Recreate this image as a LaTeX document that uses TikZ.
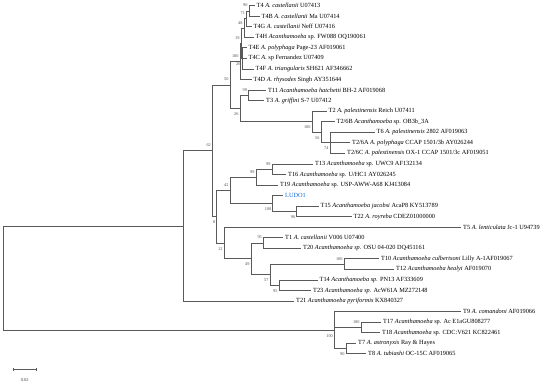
\documentclass[tikz,border=0pt]{standalone}
\usepackage{fontspec}
\setmainfont{Liberation Serif}
\definecolor{brc}{RGB}{90,90,90}
\definecolor{ludo}{RGB}{20,110,220}
\begin{document}
\begin{tikzpicture}[x=1pt,y=-1pt,
  br/.style={draw=brc, line width=0.85pt},
  leaf/.style={anchor=west, inner xsep=2pt, inner ysep=0pt, font=\fontsize{6.3}{7}\selectfont, text=black},
  bs/.style={font=\fontsize{4.3}{5}\selectfont, text=black!70, inner sep=0pt, anchor=east, xshift=-1.3pt},
  bsa/.style={bs, yshift=5.5pt},
  bsb/.style={bs, yshift=-5.5pt}]
\useasboundingbox (0,0) rectangle (550,386);
% ---------- leaves ----------
\node[leaf] (t4)   at (254.5,5.7)   {T4 \textit{A. castellanii} U07413};
\node[leaf] (t4b)  at (259.5,16.25) {T4B \textit{A. castellanii} Ma U07414};
\node[leaf] (t4g)  at (251.5,26.8)  {T4G \textit{A. castellanii} Neff U07416};
\node[leaf] (t4h)  at (253.5,37.35) {T4H \textit{Acanthamoeba} sp. FW088 OQ190061};
\node[leaf] (t4e)  at (246.5,47.9)  {T4E \textit{A. polyphaga} Page-23 AF019061};
\node[leaf] (t4c)  at (246.5,58.45) {T4C \textit{A.} sp Fernandez U07409};
\node[leaf] (t4f)  at (253.5,69.0)  {T4F \textit{A. triangularis} SH621 AF346662};
\node[leaf] (t4d)  at (251.5,79.55) {T4D \textit{A. rhysodes} Singh AY351644};
\node[leaf] (t11)  at (266,90.1)    {T11 \textit{Acanthamoeba hatchetti} BH-2 AF019068};
\node[leaf] (t3)   at (264,100.65)  {T3 \textit{A. griffini} S-7 U07412};
\node[leaf] (t2)   at (326.5,111.2) {T2 \textit{A. palestinensis} Reich U07411};
\node[leaf] (t26b) at (334.5,121.75){T2/6B \textit{Acanthamoeba} sp. OB3b\_3A};
\node[leaf] (t6)   at (374.5,132.3) {T6 \textit{A. palestinensis} 2802 AF019063};
\node[leaf] (t26a) at (350,142.85)  {T2/6A \textit{A. polyphaga} CCAP 1501/3b AY026244};
\node[leaf] (t26c) at (345,153.4)   {T2/6C \textit{A. palestinensis} OX-1 CCAP 1501/3c AF019051};
\node[leaf] (t13)  at (313,163.95)  {T13 \textit{Acanthamoeba} sp. UWC9 AF132134};
\node[leaf] (t16)  at (286,174.5)   {T16 \textit{Acanthamoeba} sp. U/HC1 AY026245};
\node[leaf] (t19)  at (278,185.05)  {T19 \textit{Acanthamoeba} sp. USP-AWW-A68 KJ413084};
\node[leaf, text=ludo] (ludo) at (283,195.6) {LUDO1};
\node[leaf] (t15)  at (318.5,206.15){T15 \textit{Acanthamoeba jacobsi} AcaP8 KY513789};
\node[leaf] (t22)  at (351.5,216.7) {T22 \textit{A. royreba} CDEZ01000000};
\node[leaf] (t5)   at (461,227.25)  {T5 \textit{A. lenticulata} Jc-1 U94739};
\node[leaf] (t1)   at (283,237.8)   {T1 \textit{A. castellanii} V006 U07400};
\node[leaf] (t20)  at (301,248.35)  {T20 \textit{Acanthamoeba sp.} OSU 04-020 DQ451161};
\node[leaf] (t10)  at (379,258.9)   {T10 \textit{Acanthamoeba culbertsoni} Lilly A-1AF019067};
\node[leaf] (t12)  at (394,269.45)  {T12 \textit{Acanthamoeba healyi} AF019070};
\node[leaf] (t14)  at (317.5,280.0) {T14 \textit{Acanthamoeba sp.} PN13 AF333609};
\node[leaf] (t23)  at (311,290.55)  {T23 \textit{Acanthamoeba sp.} AcW61A MZ272148};
\node[leaf] (t21)  at (294,301.1)   {T21 \textit{Acanthamoeba pyriformis} KX840327};
\node[leaf] (t9)   at (461,311.65)  {T9 \textit{A. comandoni} AF019066};
\node[leaf] (t17)  at (381,322.2)   {T17 \textit{Acanthamoeba} sp. Ac E1aGU808277};
\node[leaf] (t18)  at (380,332.75)  {T18 \textit{Acanthamoeba} sp. CDC:V621 KC822461};
\node[leaf] (t7)   at (356,343.3)   {T7 \textit{A. astronyxis} Ray \& Hayes};
\node[leaf] (t8)   at (366,353.85)  {T8 \textit{A. tubiashi} OC-15C AF019065};
% ---------- internal nodes ----------
\coordinate (n1)  at (249,10.975);
\coordinate (n2)  at (246.5,18.89);
\coordinate (n3)  at (244,28.12);
\coordinate (nz)  at (242,58.45);
\coordinate (ny)  at (241,43.29);
\coordinate (nr)  at (240,61.42);
\coordinate (n11) at (248.5,95.375);
\coordinate (nq2) at (330,142.85);
\coordinate (nq)  at (321,132.3);
\coordinate (np)  at (312,121.75);
\coordinate (nf)  at (240,108.56);
\coordinate (nc)  at (230,84.99);
\coordinate (n13) at (272,169.225);
\coordinate (nm)  at (256,177.14);
\coordinate (n15) at (296.7,211.425);
\coordinate (nl)  at (272.7,203.51);
\coordinate (ne)  at (230,190.33);
\coordinate (nt1) at (263.3,243.075);
\coordinate (n10) at (344,264.175);
\coordinate (n14) at (279,285.275);
\coordinate (ns)  at (270,274.725);
\coordinate (nj)  at (251,258.9);
\coordinate (nk)  at (224,243.075);
\coordinate (nd)  at (216.7,216.70);
\coordinate (nb)  at (212.3,150.85);
\coordinate (na)  at (183,225.97);
\coordinate (n17) at (361,327.475);
\coordinate (n7)  at (346,348.575);
\coordinate (ng)  at (334.3,330.11);
\coordinate (root) at (3.3,278.04);
% ---------- branches ----------
\draw[br] (root) |- (na);   \draw[br] (root) |- (ng);
\draw[br] (na) |- (nb);     \draw[br] (na) |- (t21.west);
\draw[br] (nb) |- (nc);     \draw[br] (nb) |- (nd);
\draw[br] (nc) |- (nr);     \draw[br] (nc) |- (nf);
\draw[br] (nr) |- (ny);     \draw[br] (nr) |- (t4d.west);
\draw[br] (ny) |- (n3);     \draw[br] (ny) |- (nz);
\draw[br] (n3) |- (n2);     \draw[br] (n3) |- (t4h.west);
\draw[br] (n2) |- (n1);     \draw[br] (n2) |- (t4g.west);
\draw[br] (n1) |- (t4.west);\draw[br] (n1) |- (t4b.west);
\draw[br] (nz) |- (t4e.west);\draw[br] (nz) |- (t4c.west);\draw[br] (nz) |- (t4f.west);
\draw[br] (nf) |- (n11);    \draw[br] (nf) |- (np);
\draw[br] (n11) |- (t11.west);\draw[br] (n11) |- (t3.west);
\draw[br] (np) |- (t2.west); \draw[br] (np) |- (nq);
\draw[br] (nq) |- (t26b.west);\draw[br] (nq) |- (nq2);
\draw[br] (nq2) |- (t6.west);\draw[br] (nq2) |- (t26a.west);\draw[br] (nq2) |- (t26c.west);
\draw[br] (nd) |- (ne);     \draw[br] (nd) |- (nk);
\draw[br] (ne) |- (nm);     \draw[br] (ne) |- (nl);
\draw[br] (nm) |- (n13);    \draw[br] (nm) |- (t19.west);
\draw[br] (n13) |- (t13.west);\draw[br] (n13) |- (t16.west);
\draw[br] (nl) |- (ludo.west);\draw[br] (nl) |- (n15);
\draw[br] (n15) |- (t15.west);\draw[br] (n15) |- (t22.west);
\draw[br] (nk) |- (t5.west); \draw[br] (nk) |- (nj);
\draw[br] (nj) |- (nt1);    \draw[br] (nj) |- (ns);
\draw[br] (nt1) |- (t1.west);\draw[br] (nt1) |- (t20.west);
\draw[br] (ns) |- (n10);    \draw[br] (ns) |- (n14);
\draw[br] (n10) |- (t10.west);\draw[br] (n10) |- (t12.west);
\draw[br] (n14) |- (t14.west);\draw[br] (n14) |- (t23.west);
\draw[br] (ng) |- (t9.west); \draw[br] (ng) |- (n17); \draw[br] (ng) |- (n7);
\draw[br] (n17) |- (t17.west);\draw[br] (n17) |- (t18.west);
\draw[br] (n7) |- (t7.west); \draw[br] (n7) |- (t8.west);
% ---------- bootstrap values ----------
\node[bsa] (b1)  at (n1)  {90};
\node[bsa] (b2)  at (n2)  {71};
\node[bsa] (b3)  at (n3)  {48};
\node[bsa] (b4)  at (ny)  {19};
\node[bsb] (b5)  at (nz)  {26};
\node[bsa] (b6)  at (nr)  {100};
\node[bsa] (b7)  at (nc)  {50};
\node[bsa] (b8)  at (n11) {99};
\node[bsb] (b9)  at (nf)  {26};
\node[bsb] (b10) at (np)  {100};
\node[bsb] (b11) at (nq)  {56};
\node[bsb] (b12) at (nq2) {74};
\node[bsa] (b13) at (nb)  {62};
\node[bsa] (b14) at (n13) {99};
\node[bsa] (b15) at (nm)  {99};
\node[bsa] (b16) at (ne)  {42};
\node[bsb] (b17) at (nl)  {100};
\node[bsb] (b18) at (n15) {96};
\node[bsb] (b19) at (nd)  {8};
\node[bsb] (b20) at (nk)  {12};
\node[bsa] (b21) at (nt1) {95};
\node[bsb] (b22) at (nj)  {49};
\node[bsa] (b23) at (n10) {100};
\node[bsb] (b24) at (ns)  {57};
\node[bsb] (b25) at (n14) {95};
\node[bsb] (b26) at (ng)  {100};
\node[bsa] (b27) at (n17) {100};
\node[bsb] (b28) at (n7)  {90};
% ---------- scale bar ----------
\coordinate (s1) at (13.3,369.3);
\coordinate (s2) at (36,369.3);
\draw[br, line width=0.7pt] (s1) -- (s2);
\draw[br, line width=0.7pt] ([yshift=1.8pt]s1) -- ([yshift=-1.8pt]s1);
\draw[br, line width=0.7pt] ([yshift=1.8pt]s2) -- ([yshift=-1.8pt]s2);
\node[font=\fontsize{4.5}{5}\selectfont, text=black!75, inner sep=0pt] (sl) at (24.7,380.5) {0.02};
\end{tikzpicture}
\end{document}
